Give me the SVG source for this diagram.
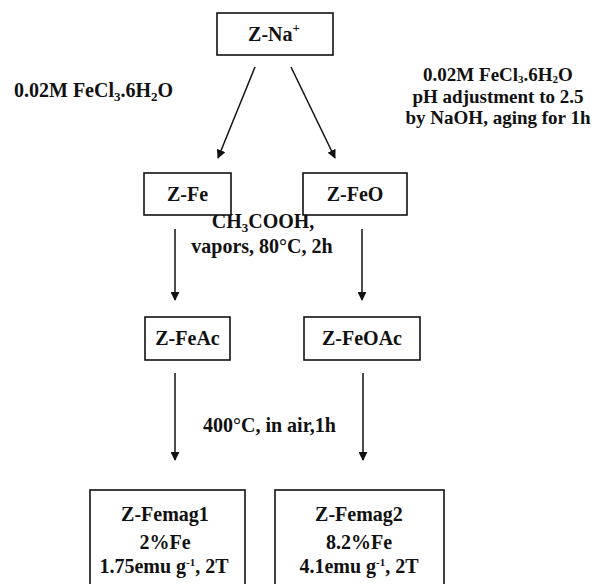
<svg xmlns="http://www.w3.org/2000/svg" width="598" height="584" viewBox="0 0 598 584">
<defs>
<style>
.box{fill:#fff;stroke:#111;stroke-width:1.6}
.t{font-family:"Liberation Serif","Times New Roman",serif;font-weight:bold;font-size:20px;fill:#111}
.r{font-size:19px}
.m{text-anchor:middle}
.ln{stroke:#111;stroke-width:1.5;fill:none;marker-end:url(#ah)}
</style>
<marker id="ah" viewBox="0 0 10 10" refX="9" refY="5" markerWidth="9" markerHeight="9" markerUnits="userSpaceOnUse" orient="auto">
<path d="M0,0 L10,5 L0,10 z" fill="#111"/>
</marker>
</defs>
<rect width="598" height="584" fill="#fff"/>
<g id="connectors">
<line class="ln" x1="255" y1="67" x2="218" y2="158"/>
<line class="ln" x1="291" y1="67" x2="335" y2="158"/>
<line class="ln" x1="175" y1="229" x2="175" y2="300"/>
<line class="ln" x1="362" y1="229" x2="362" y2="300"/>
<line class="ln" x1="175" y1="373" x2="175" y2="460"/>
<line class="ln" x1="363" y1="373" x2="363" y2="460"/>
</g>
<g id="labels">
<text class="t" x="14" y="97">0.02M FeCl<tspan font-size="13" dy="4">3</tspan><tspan dy="-4">.6H</tspan><tspan font-size="13" dy="4">2</tspan><tspan dy="-4">O</tspan></text>
<text class="t r m" x="498" y="81">0.02M FeCl<tspan font-size="11" dy="2">3</tspan><tspan dy="-2">.6H</tspan><tspan font-size="11" dy="2">2</tspan><tspan dy="-2">O</tspan></text>
<text class="t r m" x="498" y="103">pH adjustment to 2.5</text>
<text class="t r m" x="498" y="124">by NaOH, aging for 1h</text>
<text class="t m" x="263" y="228">CH<tspan font-size="13" dy="4">3</tspan><tspan dy="-4">COOH,</tspan></text>
<text class="t m" x="262" y="253">vapors, 80°C, 2h</text>
<text class="t" x="203" y="432">400°C, in air,1h</text>
</g>
<g id="n-zna">
<rect class="box" x="217" y="13" width="116" height="42"/>
<text class="t m" x="274" y="41">Z-Na<tspan font-size="13" dy="-9">+</tspan></text>
</g>
<g id="n-zfe">
<rect class="box" x="144" y="173" width="87" height="42"/>
<text class="t m" x="187.5" y="201">Z-Fe</text>
</g>
<g id="n-zfeo">
<rect class="box" x="303" y="173" width="104" height="42"/>
<text class="t m" x="355" y="201">Z-FeO</text>
</g>
<g id="n-zfeac">
<rect class="box" x="145" y="317" width="85" height="43"/>
<text class="t m" x="187.5" y="345">Z-FeAc</text>
</g>
<g id="n-zfeoac">
<rect class="box" x="304" y="317" width="116" height="43"/>
<text class="t m" x="362" y="345">Z-FeOAc</text>
</g>
<g id="n-femag1">
<rect class="box" x="90" y="490" width="155" height="100"/>
<text class="t m" x="165" y="521">Z-Femag1</text>
<text class="t m" x="165" y="549">2%Fe</text>
<text class="t m" x="164" y="573">1.75emu g<tspan font-size="11" dy="-7">-1</tspan><tspan dy="7">, 2T</tspan></text>
</g>
<g id="n-femag2">
<rect class="box" x="275" y="490" width="169" height="100"/>
<text class="t m" x="359" y="521">Z-Femag2</text>
<text class="t m" x="359" y="549">8.2%Fe</text>
<text class="t m" x="359" y="573">4.1emu g<tspan font-size="11" dy="-7">-1</tspan><tspan dy="7">, 2T</tspan></text>
</g>
</svg>
